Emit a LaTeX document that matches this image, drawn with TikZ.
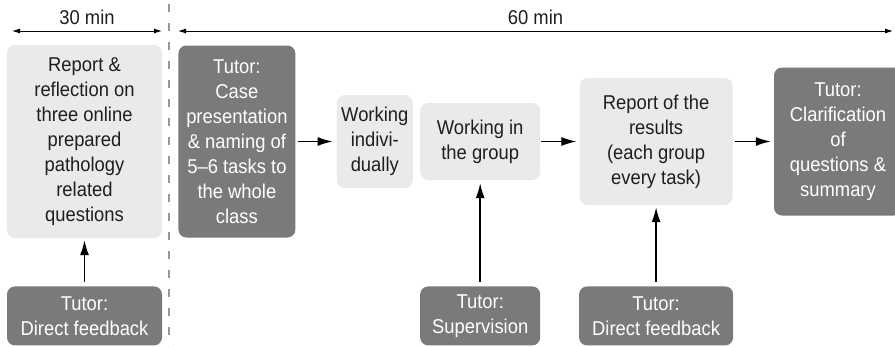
\documentclass[tikz,border=0pt]{standalone}
\usepackage{fontspec}
\setmainfont{Liberation Sans}[FakeStretch=0.92]
\usepackage{xcolor}
\usepackage{tikz}
\usetikzlibrary{positioning,arrows.meta,calc}
\definecolor{boxlight}{RGB}{233,234,234}
\definecolor{boxdark}{RGB}{121,122,121}
\definecolor{divgray}{RGB}{150,150,150}
\definecolor{inktext}{RGB}{30,30,30}
\tikzset{
  lightblock/.style={rectangle,fill=boxlight,rounded corners=8pt,align=center,inner sep=0pt,text=inktext,font=\fontsize{20}{25}\selectfont},
  darkblock/.style={lightblock,fill=boxdark,text=white},
  arrow/.style={-{Latex[length=15pt,width=9pt]},line width=1.5pt},
  timearrow/.style={{Latex[length=8pt,width=5pt]}-{Latex[length=8pt,width=5pt]},line width=0.9pt},
  timelabel/.style={inner sep=0pt,above=6pt,text=inktext,font=\fontsize{20}{25}\selectfont},
  divider/.style={draw=divgray,line width=1.5pt,dash pattern=on 8pt off 11pt}
}

\begin{document}
\begin{tikzpicture}[x=1pt,y=-1pt]
  \useasboundingbox (0,0) rectangle (895,346);

  % main row
  \node[lightblock, minimum width=155pt, minimum height=193pt] (refl) at (84.5,141.5)
    {Report \&\\reflection on\\three online\\prepared\\pathology\\related\\questions};
  \node[darkblock, minimum width=117pt, minimum height=192pt, right=16pt of refl] (case)
    {Tutor:\\Case\\presentation\\\& naming of\\5--6 tasks to\\the whole\\class};
  \node[lightblock, minimum width=76pt, minimum height=93pt, right=41pt of case] (indiv)
    {Working\\indivi-\\dually};
  \node[lightblock, minimum width=120pt, minimum height=77pt, right=7pt of indiv] (group)
    {Working in\\the group};
  \node[lightblock, minimum width=153pt, minimum height=127pt, right=39pt of group] (results)
    {Report of the\\results\\(each group\\every task)};
  \node[darkblock, minimum width=128pt, minimum height=148pt, right=41pt of results] (clarif)
    {Tutor:\\Clarification\\of\\questions \&\\summary};

  % tutor boxes below
  \node[darkblock, minimum width=155pt, minimum height=59pt, below=48pt of refl] (fbleft)
    {Tutor:\\Direct feedback};
  \node[darkblock, minimum width=120pt, minimum height=59pt, below=106pt of group] (superv)
    {Tutor:\\Supervision};
  \node[darkblock, minimum width=154pt, minimum height=59pt, below=81pt of results] (fbright)
    {Tutor:\\Direct feedback};

  \draw[arrow, shorten <=2pt, shorten >=4pt] (case) -- (indiv);
  \draw[arrow, shorten <=1pt, shorten >=3pt] (group) -- (results);
  \draw[arrow, shorten <=2pt, shorten >=3pt] (results) -- (clarif);

  \draw[arrow, shorten <=4pt, shorten >=2pt] (fbleft) -- (refl);
  \draw[arrow, shorten <=4pt, shorten >=3pt] (superv) -- (group);
  \draw[arrow, shorten <=4pt, shorten >=2pt] (fbright) -- (results);

  % time line
  \coordinate (t30a) at (12,31);
  \coordinate (t30b) at (162,31);
  \coordinate (t60a) at (178,31);
  \coordinate (t60b) at (893,31);
  \draw[timearrow] (t30a) -- node[timelabel] (l30) {30 min} (t30b);
  \draw[timearrow] (t60a) -- node[timelabel] (l60) {60 min} (t60b);

  \coordinate (d0) at (169,4);
  \coordinate (d1) at (169,346);
  \draw[divider] (d0) -- (d1);

\end{tikzpicture}
\end{document}
